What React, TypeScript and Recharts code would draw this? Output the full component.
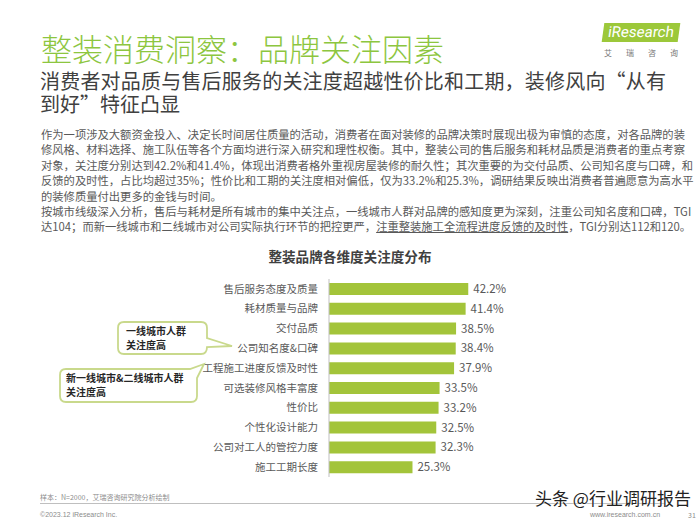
import { Bar, BarChart, LabelList, XAxis, YAxis } from "recharts";

const categories = [
  "售后服务态度及质量",
  "耗材质量与品牌",
  "交付品质",
  "公司知名度&口碑",
  "工程施工进度反馈及时性",
  "可选装修风格丰富度",
  "性价比",
  "个性化设计能力",
  "公司对工人的管控力度",
  "施工工期长度",
];
const shares = [42.2, 41.4, 38.5, 38.4, 37.9, 33.5, 33.2, 32.5, 32.3, 25.3];

const paragraph = [
  "作为一项涉及大额资金投入、决定长时间居住质量的活动，消费者在面对装修的品牌决策时展现出极为审慎的态度，对各品牌的装",
  "修风格、材料选择、施工队伍等各个方面均进行深入研究和理性权衡。其中，整装公司的售后服务和耗材品质是消费者的重点考察",
  "对象，关注度分别达到42.2%和41.4%，体现出消费者格外重视房屋装修的耐久性；其次重要的为交付品质、公司知名度与口碑，和",
  "反馈的及时性，占比均超过35%；性价比和工期的关注度相对偏低，仅为33.2%和25.3%，调研结果反映出消费者普遍愿意为高水平",
  "的装修质量付出更多的金钱与时间。",
  "按城市线级深入分析，售后与耗材是所有城市的集中关注点，一线城市人群对品牌的感知度更为深刻，注重公司知名度和口碑，TGI",
];
const justified = [true, true, true, true, false, true];

const data = categories.map((name, i) => ({ name, value: shares[i] }));

const FONT = '"Noto Sans CJK SC", "Noto Sans", sans-serif';
const GREEN = "#8DC63F";
const BAR = "#A3C43A";
const TEXT = "#595959";

function Callouts() {
  return (
    <svg
      width={700}
      height={525}
      style={{ position: "absolute", left: 0, top: 0, pointerEvents: "none" }}
    >
      <path
        d="M124,322 H201 Q207,322 207,328 V338 L232,346 L207,347 Q207,354 201,354 H124 Q118,354 118,348 V328 Q118,322 124,322 Z"
        fill="#fff"
        stroke="#C9D98C"
        strokeWidth={1.8}
      />
      <path
        d="M66,369 H190 L204,364 L197,378 V396 Q197,402 191,402 H66 Q60,402 60,396 V375 Q60,369 66,369 Z"
        fill="#fff"
        stroke="#C9D98C"
        strokeWidth={1.8}
      />
      <g fontFamily={FONT} fontSize={10} fontWeight={700} fill="#262626">
        <text x={126} y={334.5}>一线城市人群</text>
        <text x={126} y={349}>关注度高</text>
        <text x={66} y={381.5}>新一线城市&amp;二线城市人群</text>
        <text x={66} y={396}>关注度高</text>
      </g>
    </svg>
  );
}

export default function App() {
  return (
    <div
      style={{
        position: "absolute",
        left: 0,
        top: 0,
        width: 700,
        height: 525,
        background: "#fff",
        overflow: "hidden",
        fontFamily: FONT,
      }}
    >
      {/* header */}
      <div
        style={{
          position: "absolute",
          left: 41,
          top: 30,
          fontSize: 31,
          lineHeight: "36px",
          color: GREEN,
          fontWeight: 300,
          whiteSpace: "nowrap",
        }}
      >
        整装消费洞察：品牌关注因素
      </div>
      <div
        style={{
          position: "absolute",
          left: 603,
          top: 23,
          width: 76,
          height: 19,
          background: "#9CC83A",
          transform: "skewX(-8deg)",
          color: "#fff",
          fontFamily: "Roboto, sans-serif",
          fontSize: 15,
          lineHeight: "19px",
          textAlign: "center",
        }}
      >
        iResearch
      </div>
      <div
        style={{
          position: "absolute",
          left: 604,
          top: 47,
          width: 76,
          fontSize: 8,
          color: "#777",
          letterSpacing: 14,
          whiteSpace: "nowrap",
        }}
      >
        艾瑞咨询
      </div>
      <div
        style={{
          position: "absolute",
          left: 40,
          top: 69,
          width: 640,
          fontSize: 20,
          lineHeight: "23px",
          color: "#404040",
        }}
      >
        <div style={{ whiteSpace: "nowrap", letterSpacing: 0.2 }}>
          消费者对品质与售后服务的关注度超越性价比和工期，装修风向“从有
        </div>
        <div style={{ whiteSpace: "nowrap" }}>到好”特征凸显</div>
      </div>

      {/* paragraph */}
      <div
        style={{
          position: "absolute",
          left: 41,
          top: 127,
          width: 622,
          fontSize: 11.3,
          lineHeight: "15.4px",
          color: TEXT,
        }}
      >
        {paragraph.map((line, i) => (
          <div
            key={i}
            style={{
              whiteSpace: "nowrap",
              textAlign: justified[i] ? "justify" : "left",
              textAlignLast: justified[i] ? "justify" : "left",
            }}
          >
            {line}
          </div>
        ))}
        <div style={{ whiteSpace: "nowrap" }}>
          达104；而新一线城市和二线城市对公司实际执行环节的把控更严，
          <span style={{ textDecoration: "underline" }}>注重整装施工全流程进度反馈的及时性</span>
          ，TGI分别达112和120。
        </div>
      </div>

      {/* chart */}
      <div
        style={{
          position: "absolute",
          left: 0,
          top: 246,
          width: 700,
          textAlign: "center",
          fontSize: 13.6,
          fontWeight: 700,
          color: "#404040",
        }}
      >
        整装品牌各维度关注度分布
      </div>
      <div style={{ position: "absolute", left: 150, top: 270 }}>
        <BarChart
          width={420}
          height={220}
          data={data}
          layout="vertical"
          margin={{ top: 9, right: 10, bottom: 13, left: 0 }}
          barSize={12}
        >
          <XAxis type="number" domain={[0, 70]} hide />
          <YAxis
            type="category"
            dataKey="name"
            width={179}
            tickLine={false}
            tickMargin={5}
            axisLine={{ stroke: "#BFBFBF" }}
            tick={{ fontSize: 10.5, fill: TEXT, fontFamily: FONT }}
            interval={0}
          />
          <Bar dataKey="value" fill={BAR} isAnimationActive={false}>
            <LabelList
              dataKey="value"
              position="right"
              offset={5}
              formatter={(v: number) => `${v.toFixed(1)}%`}
              style={{ fontSize: 11.5, fill: TEXT, fontFamily: FONT }}
            />
          </Bar>
        </BarChart>
      </div>
      <Callouts />

      {/* footer */}
      <div
        style={{
          position: "absolute",
          left: 40,
          top: 492,
          fontSize: 7,
          color: "#8C8C8C",
          whiteSpace: "nowrap",
        }}
      >
        样本：N=2000，艾瑞咨询研究院分析绘制
      </div>
      <div
        style={{
          position: "absolute",
          left: 40,
          top: 503,
          width: 625,
          height: 1,
          background: "#BFBFBF",
        }}
      />
      <div
        style={{
          position: "absolute",
          left: 40,
          top: 510,
          fontSize: 7,
          lineHeight: "9px",
          color: "#8C8C8C",
          fontFamily: "Arial, Liberation Sans, sans-serif",
        }}
      >
        ©2023.12 iResearch Inc.
      </div>
      <div
        style={{
          position: "absolute",
          left: 590,
          top: 510,
          fontSize: 7,
          lineHeight: "9px",
          color: "#8C8C8C",
          fontFamily: "Arial, Liberation Sans, sans-serif",
        }}
      >
        www.iresearch.com.cn
      </div>
      <div
        style={{
          position: "absolute",
          left: 688,
          top: 511,
          fontSize: 7,
          lineHeight: "9px",
          color: "#8C8C8C",
        }}
      >
        31
      </div>
      <div
        style={{
          position: "absolute",
          left: 535,
          top: 488,
          fontSize: 17,
          lineHeight: "20px",
          color: "#222",
          whiteSpace: "nowrap",
          textShadow: "0 0 2px #fff",
        }}
      >
        头条 @行业调研报告
      </div>
    </div>
  );
}
